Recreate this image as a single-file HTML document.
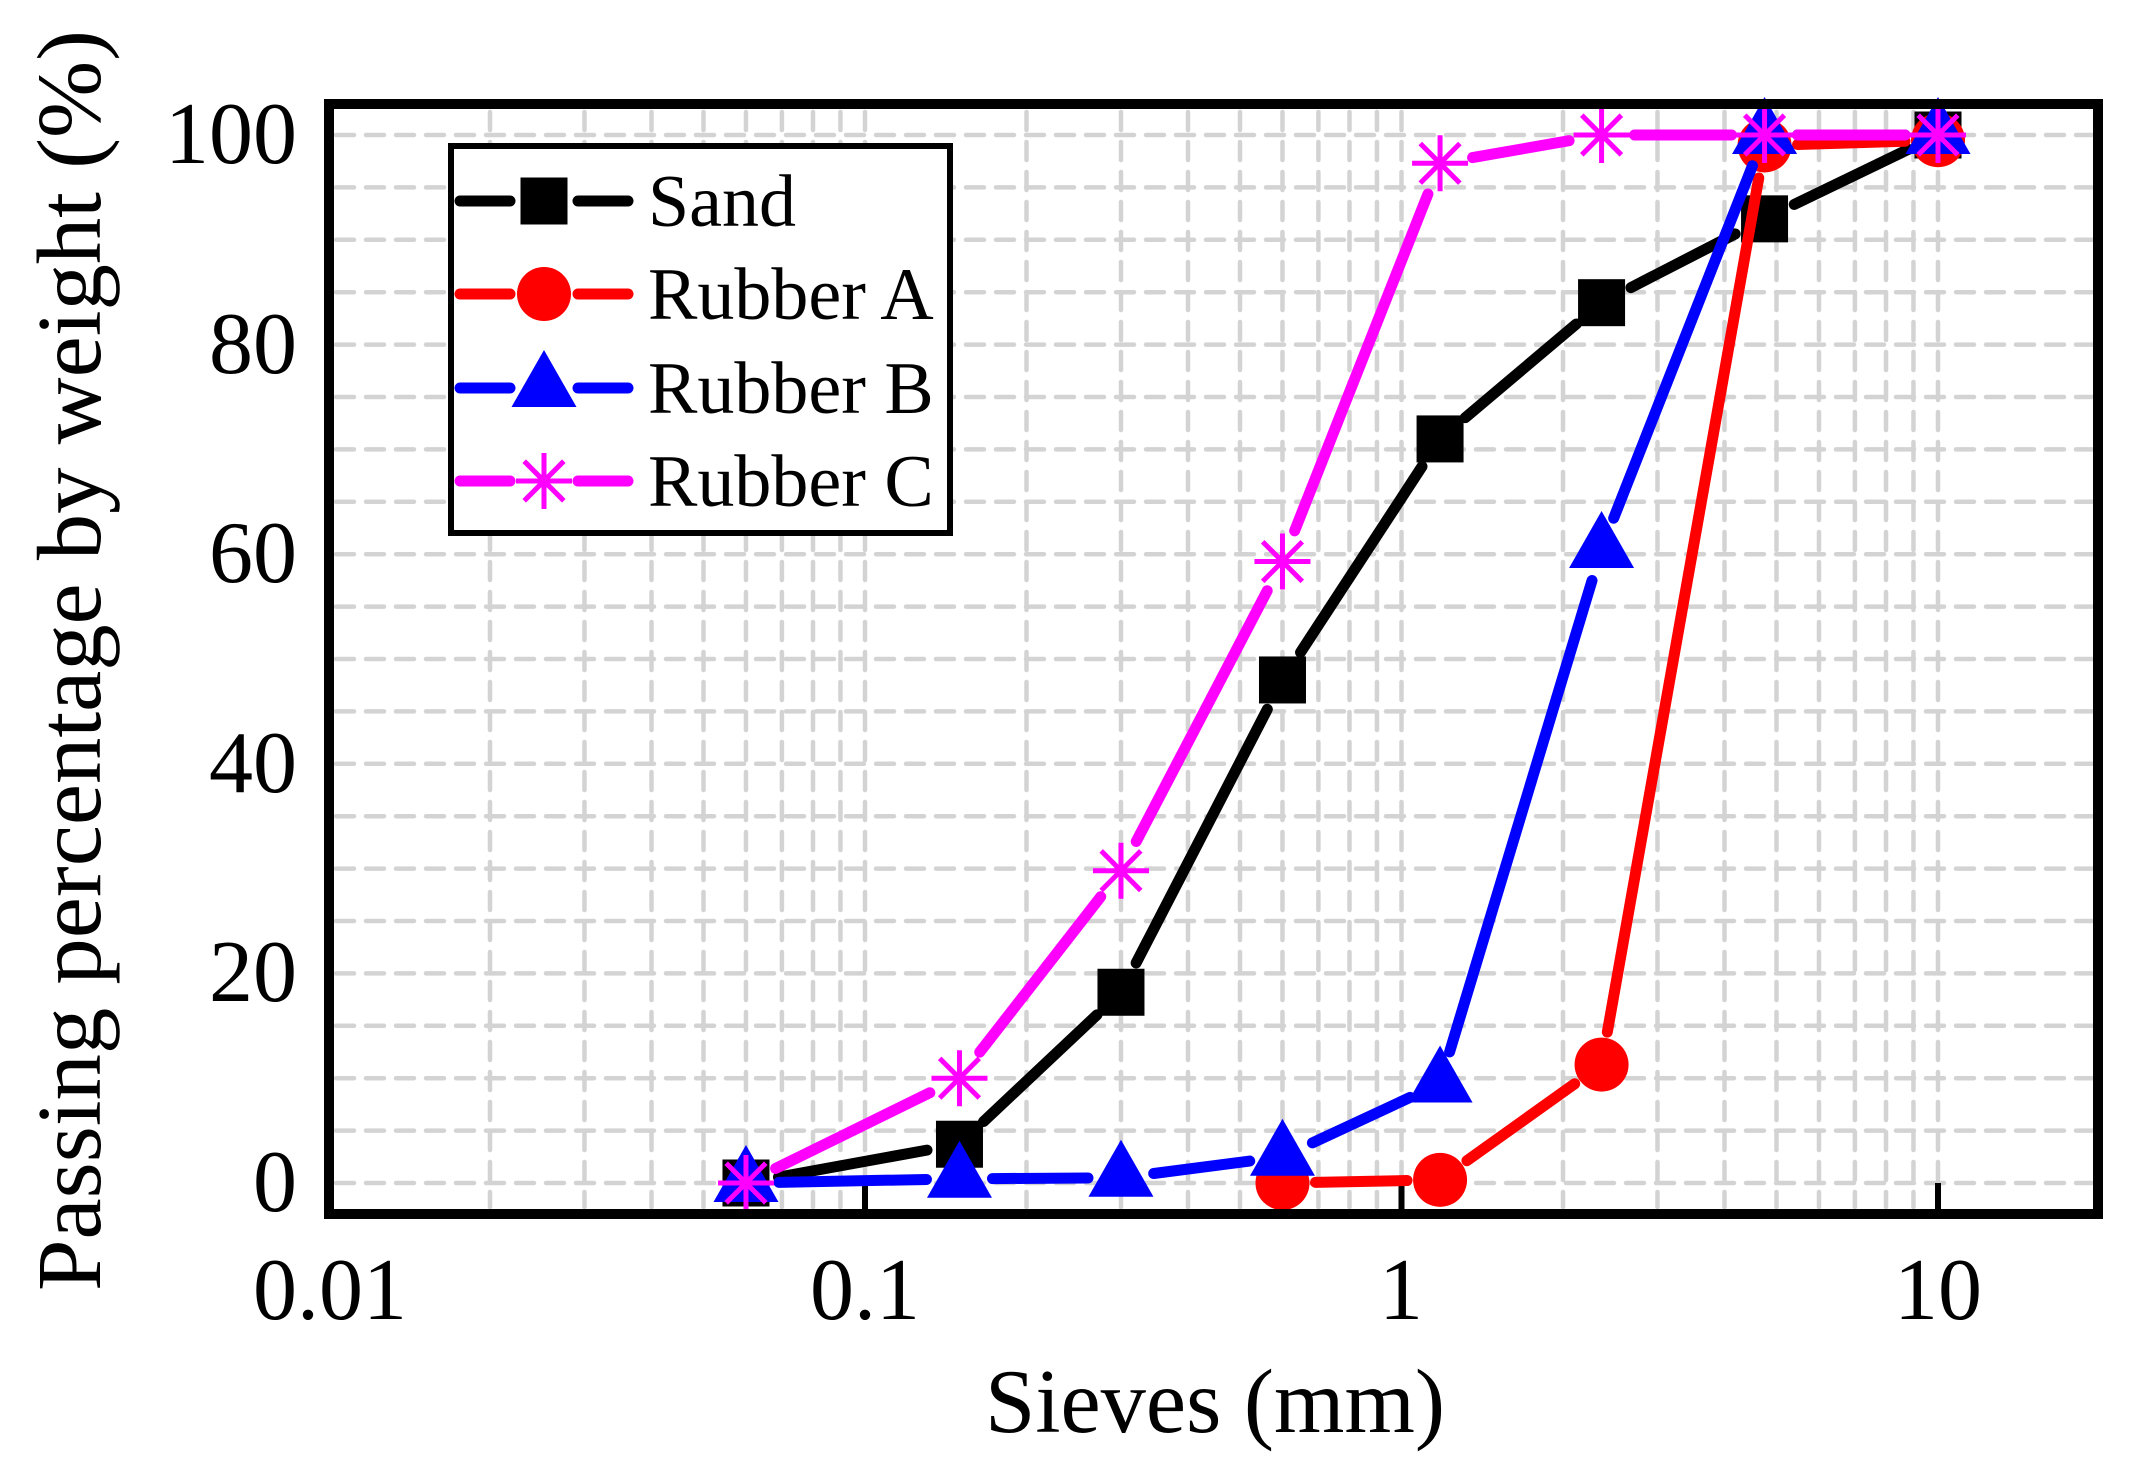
<!DOCTYPE html>
<html><head><meta charset="utf-8"><style>html,body{margin:0;padding:0;background:#fff}svg{display:block}</style></head>
<body>
<svg id="s" width="2133" height="1477" viewBox="0 0 2133 1477" xmlns="http://www.w3.org/2000/svg" font-family="'Liberation Serif', serif">
<rect width="2133" height="1477" fill="#fff"/>
<g id="grid" stroke="#d3d3d3" stroke-width="4.5" stroke-linecap="round" stroke-dasharray="18 12" fill="none"></g>
<g id="ticks" stroke="#000" stroke-width="6" fill="none"></g>
<g id="data"></g>
<rect x="329" y="104" width="1769" height="1110" fill="none" stroke="#000" stroke-width="10"/>
<g font-size="88" fill="#000" text-anchor="end">
<text x="297" y="163">100</text>
<text x="297" y="373">80</text>
<text x="297" y="582">60</text>
<text x="297" y="792">40</text>
<text x="297" y="1001">20</text>
<text x="297" y="1211">0</text>
</g>
<g font-size="88" fill="#000" text-anchor="middle">
<text x="330" y="1319">0.01</text>
<text x="865" y="1319">0.1</text>
<text x="1401" y="1319">1</text>
<text x="1938" y="1319">10</text>
</g>
<text x="1215" y="1432" font-size="91" text-anchor="middle" textLength="460" lengthAdjust="spacingAndGlyphs">Sieves (mm)</text>
<text transform="translate(100,1291) rotate(-90)" x="0" y="0" font-size="91" textLength="1261" lengthAdjust="spacingAndGlyphs">Passing percentage by weight (%)</text>
<g id="legend">
<rect x="451" y="146" width="499" height="387" fill="#fff" stroke="#000" stroke-width="6"/>
<g font-size="74" fill="#000">
<text x="648" y="226">Sand</text>
<text x="648" y="319">Rubber A</text>
<text x="648" y="413">Rubber B</text>
<text x="648" y="506">Rubber C</text>
</g>
</g>
</svg>
<script>
var NS="http://www.w3.org/2000/svg";
function X(v){return 328.5+536.5*(Math.log10(v)+2);}
function Y(p){return 1183-p*10.48;}
function el(parent,tag,attrs){var e=document.createElementNS(NS,tag);for(var k in attrs)e.setAttribute(k,attrs[k]);parent.appendChild(e);return e;}
var grid=document.getElementById('grid');
for(var p=0;p<=100;p+=5){el(grid,'line',{x1:336,y1:Y(p),x2:2092,y2:Y(p)});}
for(var d=-2;d<=1;d++){for(var m=1;m<=9;m++){var v=m*Math.pow(10,d);if(v<=0.01||v>=20)continue;el(grid,'line',{x1:X(v),y1:112,x2:X(v),y2:1207});}}
var ticks=document.getElementById('ticks');
[0.1,1,10].forEach(function(v){el(ticks,'line',{x1:X(v),y1:1183,x2:X(v),y2:1210});});
var xs=[0.06,0.15,0.3,0.6,1.18,2.36,4.75,10];
var series=[
 {c:'#000',m:'sq',x:xs,y:[0,3.7,18.2,48,71,84,92,100]},
 {c:'#f00',m:'ci',x:[0.6,1.18,2.36,4.75,10],y:[0,0.3,11.3,99,99.5]},
 {c:'#00f',m:'tr',x:xs,y:[0,0.4,0.5,2.5,9.5,60.5,100,100]},
 {c:'#f0f',m:'st',x:xs,y:[0,10,29.8,59.3,97.3,100,100,100]}
];
function marker(g,type,cx,cy,c){
 if(type==='sq')el(g,'rect',{x:cx-23.5,y:cy-23.5,width:47,height:47,fill:c});
 else if(type==='ci')el(g,'circle',{cx:cx,cy:cy,r:27,fill:c});
 else if(type==='tr')el(g,'polygon',{points:(cx)+','+(cy-38)+' '+(cx-32.5)+','+(cy+19)+' '+(cx+32.5)+','+(cy+19),fill:c});
 else {var r=28;for(var i=0;i<4;i++){var a=i*Math.PI/4,dx=Math.sin(a),dy=Math.cos(a);
  el(g,'line',{x1:cx-r*dx,y1:cy-r*dy,x2:cx+r*dx,y2:cy+r*dy,stroke:c,'stroke-width':5});}}
}
var data=document.getElementById('data');
series.forEach(function(s){
 var g=el(data,'g',{});
 var gap=33;
 for(var i=0;i<s.x.length-1;i++){
  var x1=X(s.x[i]),y1=Y(s.y[i]),x2=X(s.x[i+1]),y2=Y(s.y[i+1]);
  var dx=x2-x1,dy=y2-y1,L=Math.sqrt(dx*dx+dy*dy);
  if(L>2*gap+4){var ux=dx/L,uy=dy/L;
   el(g,'line',{x1:x1+ux*gap,y1:y1+uy*gap,x2:x2-ux*gap,y2:y2-uy*gap,stroke:s.c,'stroke-width':11,'stroke-linecap':'round'});}
 }
 for(var i=0;i<s.x.length;i++)marker(g,s.m,X(s.x[i]),Y(s.y[i]),s.c);
});
var lg=document.getElementById('legend');
var ly=[201,294,388,481];
series.forEach(function(s,i){
 var g=el(lg,'g',{});
 el(g,'line',{x1:460,y1:ly[i],x2:510,y2:ly[i],stroke:s.c,'stroke-width':11,'stroke-linecap':'round'});
 el(g,'line',{x1:578,y1:ly[i],x2:628,y2:ly[i],stroke:s.c,'stroke-width':11,'stroke-linecap':'round'});
 marker(g,s.m,544,ly[i],s.c);
});
</script>
</body></html>
